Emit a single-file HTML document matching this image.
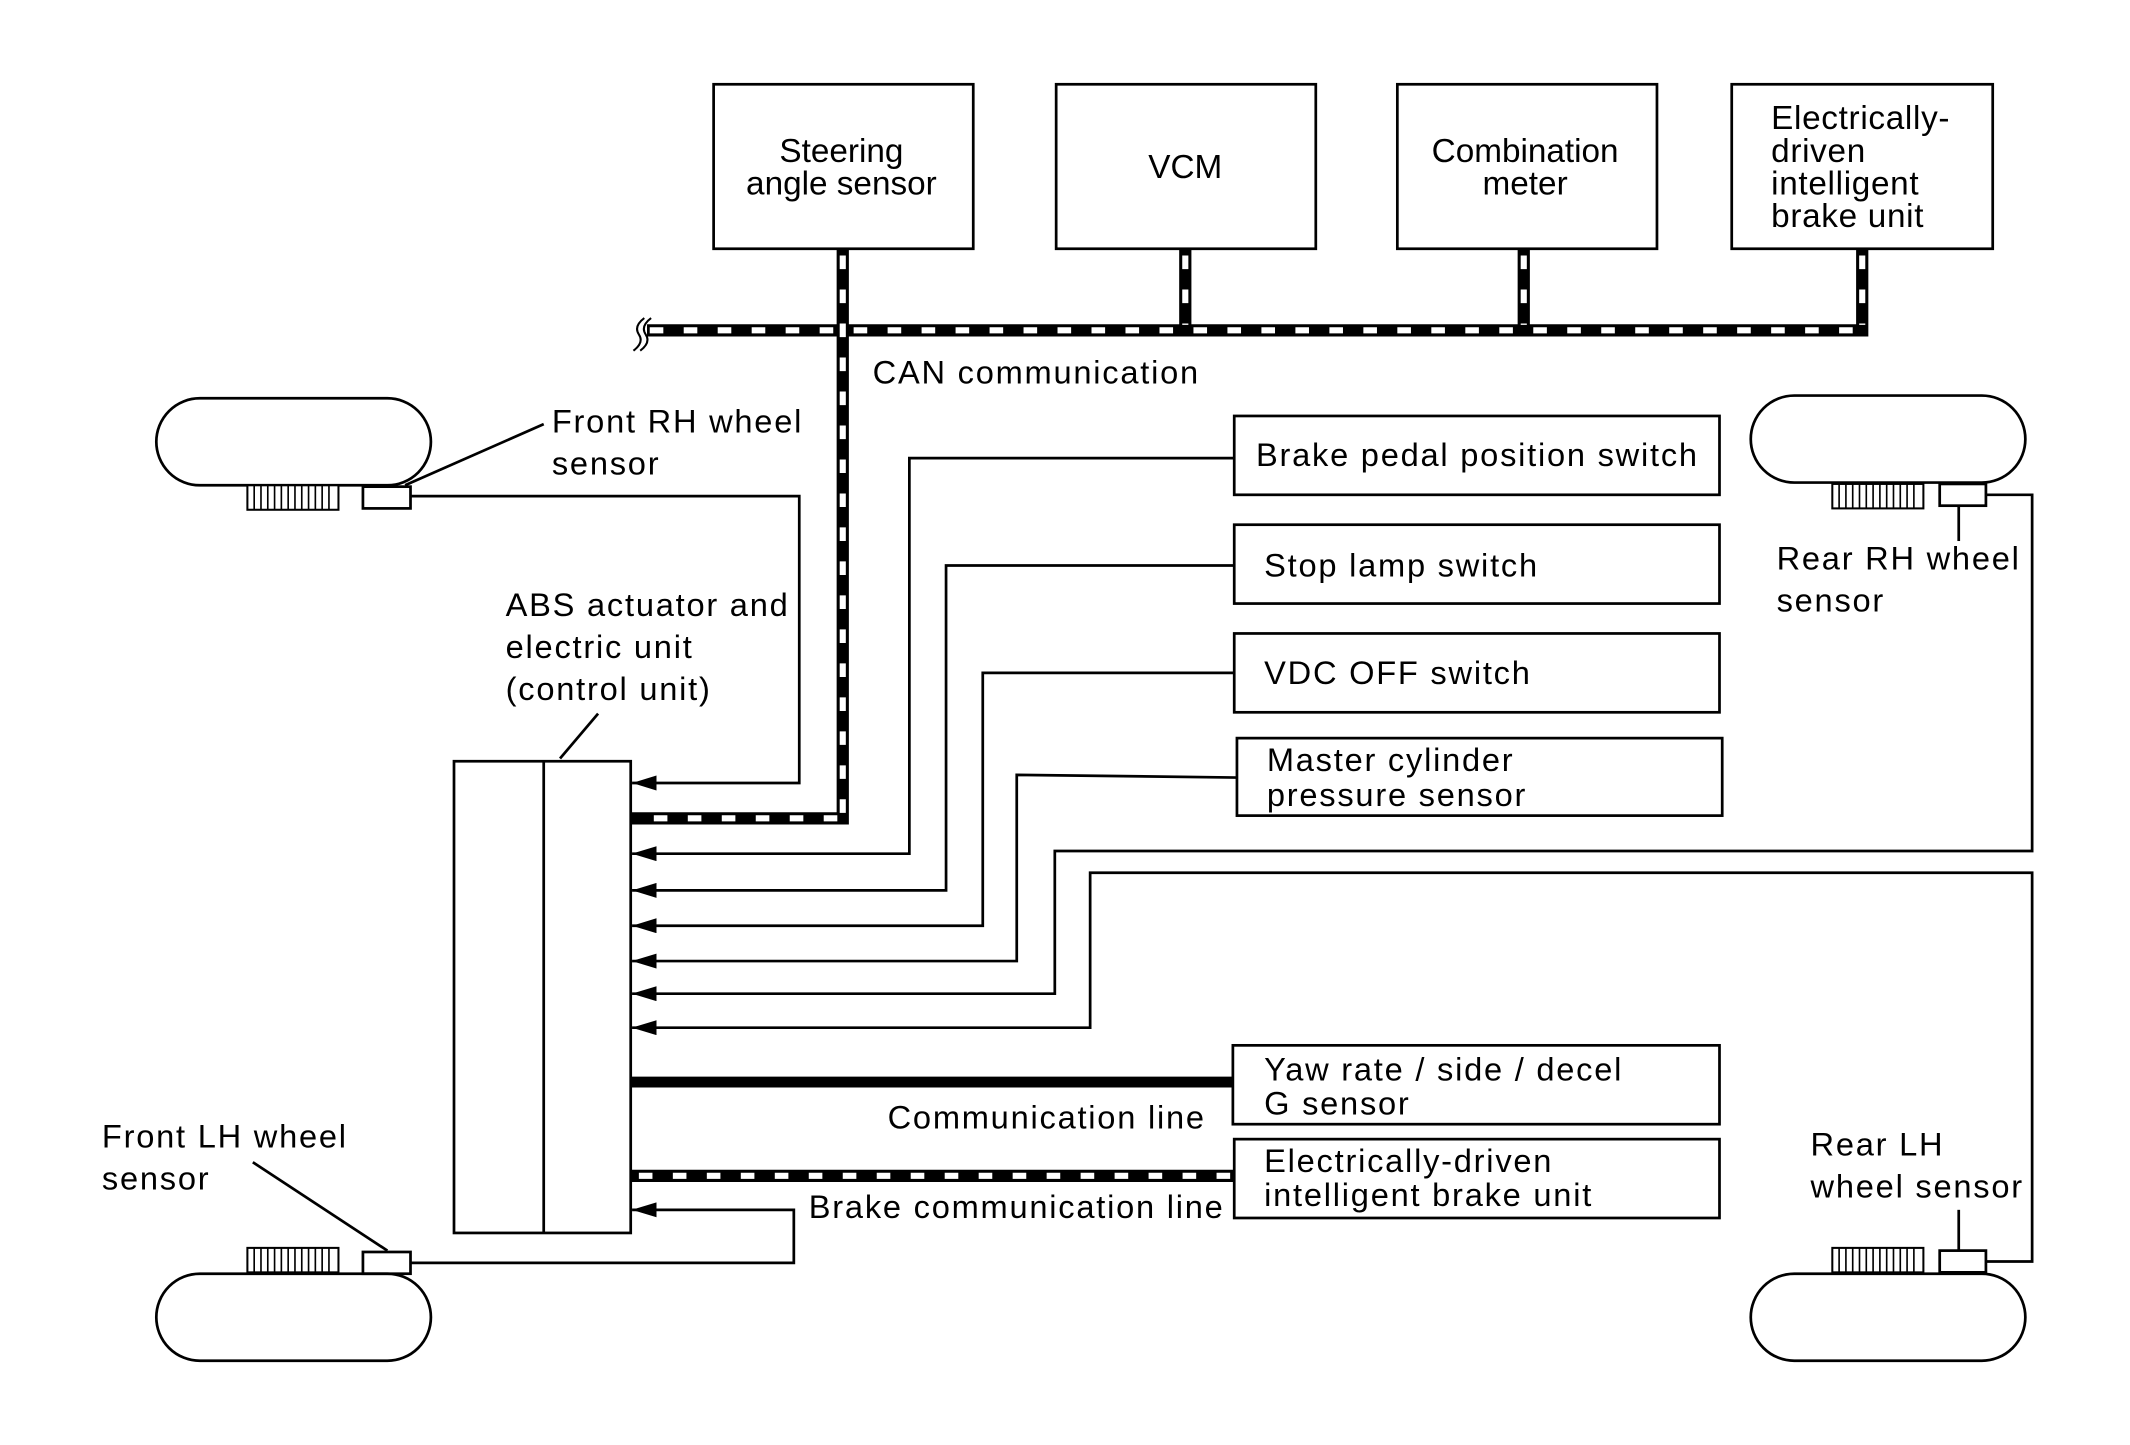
<!DOCTYPE html>
<html><head><meta charset="utf-8"><style>html,body{margin:0;padding:0;background:#fff}svg{display:block}</style></head>
<body>
<svg width="2130" height="1445" viewBox="0 0 1567 1063" preserveAspectRatio="none" xmlns="http://www.w3.org/2000/svg" font-family="Liberation Sans, sans-serif" font-size="24" fill="#000">
<defs>
<marker id="ar" markerWidth="18" markerHeight="11" refX="18" refY="5.5" orient="auto" markerUnits="userSpaceOnUse">
<path d="M0,0 L18,5.5 L0,11 Z" fill="#000"/></marker>
<g id="ring"><rect x="0" y="0" width="67" height="18" fill="#fff" stroke="#000" stroke-width="1.5"/>
<path d="M5,0v18M10,0v18M15,0v18M20,0v18M25,0v18M30,0v18M35,0v18M40,0v18M45,0v18M50,0v18M55,0v18M60,0v18" stroke="#000" stroke-width="1.2"/></g>
</defs>
<g fill="none" stroke="#000" stroke-width="2">
<rect x="525" y="62" width="191" height="121"/>
<rect x="777" y="62" width="191" height="121"/>
<rect x="1028" y="62" width="191" height="121"/>
<rect x="1274" y="62" width="192" height="121"/>
<rect x="908" y="306" width="357" height="58"/>
<rect x="908" y="386" width="357" height="58"/>
<rect x="908" y="466" width="357" height="58"/>
<rect x="910" y="543" width="357" height="57"/>
<rect x="907" y="769" width="358" height="58"/>
<rect x="908" y="838" width="357" height="58"/>
<rect x="334" y="560" width="130" height="347"/>
<line x1="400" y1="560" x2="400" y2="907"/>
<line x1="412" y1="558" x2="440" y2="525"/>
<rect x="115" y="293" width="202" height="64" rx="32"/>
<rect x="115" y="937" width="202" height="64" rx="32"/>
<rect x="1288" y="291" width="202" height="64" rx="32"/>
<rect x="1288" y="937" width="202" height="64" rx="32"/>
<rect x="267" y="358" width="35" height="16"/>
<rect x="267" y="921" width="35" height="16"/>
<rect x="1427" y="356" width="34" height="16"/>
<rect x="1427" y="920" width="34" height="16"/>
<line x1="298" y1="357" x2="400" y2="312"/>
<line x1="285" y1="920" x2="186" y2="855"/>
<line x1="1441" y1="372" x2="1441" y2="398"/>
<line x1="1441" y1="920" x2="1441" y2="890"/>
<polyline points="302,365 588,365 588,576 465,576" marker-end="url(#ar)"/>
<polyline points="908,337 669,337 669,628 465,628" marker-end="url(#ar)"/>
<polyline points="908,416 696,416 696,655 465,655" marker-end="url(#ar)"/>
<polyline points="908,495 723,495 723,681 465,681" marker-end="url(#ar)"/>
<polyline points="910,572 748,570 748,707 465,707" marker-end="url(#ar)"/>
<polyline points="1461,364 1495,364 1495,626 776,626 776,731 465,731" marker-end="url(#ar)"/>
<polyline points="1461,928 1495,928 1495,642 802,642 802,756 465,756" marker-end="url(#ar)"/>
<polyline points="302,929 584,929 584,890 465,890" marker-end="url(#ar)"/>
<line x1="464" y1="796" x2="907" y2="796" stroke-width="8"/>
<path d="M474,234 q-8,6 -4,12 q4,6 -4,12 M479,234 q-8,6 -4,12 q4,6 -4,12" stroke-width="1.5"/>
</g>
<use href="#ring" x="182" y="357"/>
<use href="#ring" x="182" y="918"/>
<use href="#ring" x="1348" y="356"/>
<use href="#ring" x="1348" y="918"/>
<g fill="none" stroke="#000" stroke-width="9" stroke-linejoin="miter">
<path d="M476,243 H1370 V183 M620,183 V602 H464 M872,183 V243 M1121,183 V243"/>
<path d="M464,865 H908"/>
</g>
<g fill="none" stroke="#fff" stroke-width="4.5" stroke-dasharray="10 15">
<path d="M478,243 H1366"/>
<path d="M1370,188 V239"/>
<path d="M620,188 V598"/>
<path d="M616,602 H468"/>
<path d="M872,188 V239"/>
<path d="M1121,188 V239"/>
<path d="M470,865 H906"/>
</g>
<g font-size="24.5">
<text x="619" y="119" text-anchor="middle">Steering</text>
<text x="619" y="143" text-anchor="middle">angle sensor</text>
<text x="872" y="131" text-anchor="middle">VCM</text>
<text x="1122" y="119" text-anchor="middle">Combination</text>
<text x="1122" y="143" text-anchor="middle">meter</text>
<text x="1303" y="95" letter-spacing="0.5">Electrically-</text>
<text x="1303" y="119" letter-spacing="0.5">driven</text>
<text x="1303" y="143" letter-spacing="0.5">intelligent</text>
<text x="1303" y="167" letter-spacing="0.5">brake unit</text>
</g>
<g letter-spacing="1.3">
<text x="642" y="282">CAN communication</text>
<text x="406" y="318">Front RH wheel</text>
<text x="406" y="349">sensor</text>
<text x="372" y="453">ABS actuator and</text>
<text x="372" y="484">electric unit</text>
<text x="372" y="515">(control unit)</text>
<text x="924" y="343">Brake pedal position switch</text>
<text x="930" y="424">Stop lamp switch</text>
<text x="930" y="503">VDC OFF switch</text>
<text x="932" y="567">Master cylinder</text>
<text x="932" y="593">pressure sensor</text>
<text x="1307" y="419">Rear RH wheel</text>
<text x="1307" y="450">sensor</text>
<text x="930" y="795">Yaw rate / side / decel</text>
<text x="930" y="820">G sensor</text>
<text x="653" y="830">Communication line</text>
<text x="930" y="862">Electrically-driven</text>
<text x="930" y="887">intelligent brake unit</text>
<text x="595" y="896">Brake communication line</text>
<text x="75" y="844">Front LH wheel</text>
<text x="75" y="875">sensor</text>
<text x="1332" y="850">Rear LH</text>
<text x="1332" y="881">wheel sensor</text>
</g>
</svg>
</body></html>
